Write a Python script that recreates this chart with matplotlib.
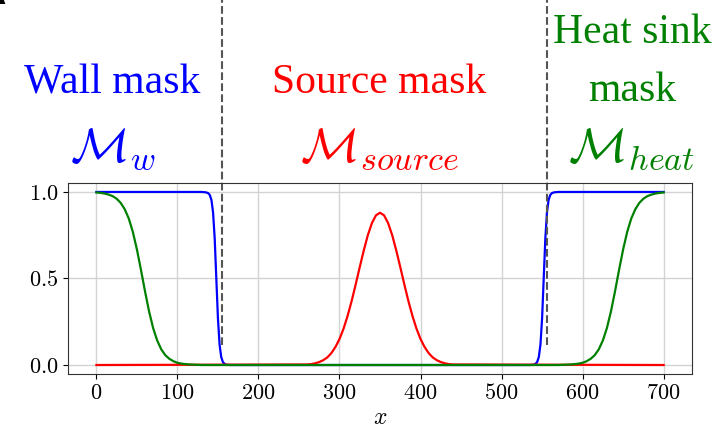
import matplotlib.pyplot as plt

plt.rcParams['mathtext.fontset'] = 'cm'

# wall mask (blue)
wall_x = [0, 130, 135, 138, 140, 142, 144, 146, 148, 150, 152, 154, 156, 158, 160, 165,
          535, 540, 542, 544, 546, 548, 550, 552, 554, 556, 558, 560, 562, 565, 570, 700]
wall_y = [1, 1, 0.998, 0.993, 0.982, 0.953, 0.881, 0.731, 0.5, 0.269, 0.119, 0.047, 0.018, 0.007, 0.002, 0,
          0, 0.002, 0.007, 0.018, 0.047, 0.119, 0.269, 0.5, 0.731, 0.881, 0.953, 0.982, 0.993, 0.998, 1, 1]

# source mask (red)
source_x = [0, 260, 265, 270, 275, 280, 285, 290, 295, 300, 305, 310, 315, 320, 325, 330, 335, 340, 345,
            350, 355, 360, 365, 370, 375, 380, 385, 390, 395, 400, 405, 410, 415, 420, 425, 430, 435, 440, 700]
source_y = [0, 0.003, 0.005, 0.010, 0.017, 0.028, 0.044, 0.069, 0.104, 0.150, 0.210, 0.284, 0.370, 0.466,
            0.566, 0.663, 0.751, 0.820, 0.865, 0.880, 0.865, 0.820, 0.751, 0.663, 0.566, 0.466, 0.370,
            0.284, 0.210, 0.150, 0.104, 0.069, 0.044, 0.028, 0.017, 0.010, 0.005, 0.003, 0]

# heat sink mask (green)
heat_x = [0, 5, 10, 15, 20, 25, 30, 35, 40, 45, 50, 55, 60, 65, 70, 75, 80, 85, 90, 95, 100, 105, 110,
          115, 120, 125, 130,
          570, 575, 580, 585, 590, 595, 600, 605, 610, 615, 620, 625, 630, 635, 640, 645, 650, 655, 660,
          665, 670, 675, 680, 685, 690, 695, 700]
heat_y = [0.997, 0.995, 0.991, 0.985, 0.976, 0.961, 0.937, 0.900, 0.846, 0.769, 0.668, 0.550, 0.426,
          0.310, 0.214, 0.142, 0.091, 0.057, 0.036, 0.022, 0.013, 0.008, 0.005, 0.003, 0.002, 0.001, 0,
          0, 0.001, 0.002, 0.003, 0.005, 0.008, 0.013, 0.022, 0.036, 0.057, 0.091, 0.142, 0.214, 0.310,
          0.426, 0.550, 0.668, 0.769, 0.846, 0.900, 0.937, 0.961, 0.976, 0.985, 0.991, 0.995, 0.997]

# region borders
borders = [155, 556]

xticks = [0, 100, 200, 300, 400, 500, 600, 700]
yticks = [0.0, 0.5, 1.0]

fig = plt.figure(figsize=(7.16, 4.29), dpi=100)
ax = fig.add_axes([0.095, 0.129, 0.8715, 0.4437])

ax.plot(wall_x, wall_y, color='#0000ff', lw=1.6)
ax.plot(source_x, source_y, color='#ff0000', lw=1.6)
ax.plot(heat_x, heat_y, color='#008000', lw=1.6)

for b in borders:
    ax.plot([b, b], [0.115, 2.2], color='#555555', ls='--', lw=1.5, clip_on=False)

ax.set_xlim(-35, 735)
ax.set_ylim(-0.05, 1.05)
ax.set_xticks(xticks, ['$%d$' % t for t in xticks], fontsize=16)
ax.set_yticks(yticks, ['$%.1f$' % t for t in yticks], fontsize=16)
ax.set_xlabel('$x$', fontsize=17, labelpad=1)
ax.grid(True, color='#d3d3d3', lw=1)
ax.set_axisbelow(True)
for s in ax.spines.values():
    s.set_color('#333333')

serif = 'Liberation Serif'
fig.text(112 / 716, 1 - 93 / 429, 'Wall mask', color='#0000ff', fontsize=30,
         family=serif, ha='center', va='baseline')
fig.text(113 / 716, 1 - 162 / 429, r'$\mathcal{M}_w$', color='#0000ff', fontsize=35,
         ha='center', va='baseline')
fig.text(379 / 716, 1 - 93 / 429, 'Source mask', color='#ff0000', fontsize=30,
         family=serif, ha='center', va='baseline')
fig.text(380 / 716, 1 - 162 / 429, r'$\mathcal{M}_{source}$', color='#ff0000', fontsize=35,
         ha='center', va='baseline')
fig.text(632 / 716, 1 - 43 / 429, 'Heat sink', color='#008000', fontsize=30,
         family=serif, ha='center', va='baseline')
fig.text(632 / 716, 1 - 101 / 429, 'mask', color='#008000', fontsize=30,
         family=serif, ha='center', va='baseline')
fig.text(632 / 716, 1 - 162 / 429, r'$\mathcal{M}_{heat}$', color='#008000', fontsize=35,
         ha='center', va='baseline')

fig.text(5 / 716, 1 - 10 / 429, 'A', color='black', fontsize=20, fontweight='bold',
         ha='right', va='bottom')

fig.savefig('out.png', dpi=100)
